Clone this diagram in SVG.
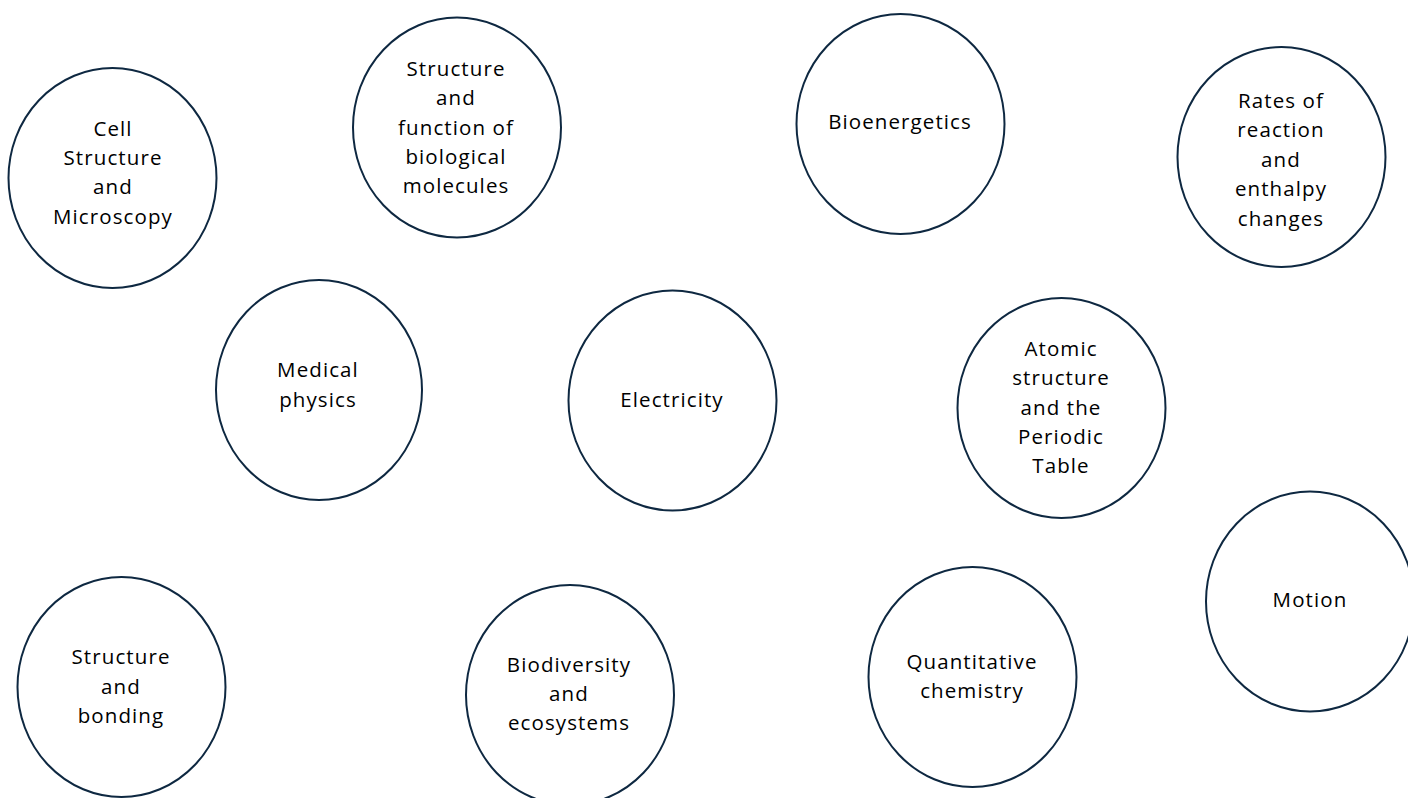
<svg xmlns="http://www.w3.org/2000/svg" width="1408" height="798" viewBox="0 0 1408 798">
<style>
.n ellipse{fill:#fff;stroke:#0e2841;stroke-width:2}
.n text{font-family:"Open Sans","Liberation Sans",sans-serif;font-size:20.5px;fill:#000;text-anchor:middle;letter-spacing:1.1px}
</style>
<rect width="1408" height="798" fill="#fff"/>
<g id="connectors"></g>
<g id="n1" class="n"><ellipse cx="112.5" cy="178" rx="104" ry="110"/><text x="113"><tspan x="113" y="136">Cell</tspan><tspan x="113" y="165">Structure</tspan><tspan x="113" y="194">and</tspan><tspan x="113" y="224">Microscopy</tspan></text></g>
<g id="n2" class="n"><ellipse cx="457" cy="127.5" rx="104" ry="110"/><text><tspan x="456" y="76">Structure</tspan><tspan x="456" y="105">and</tspan><tspan x="456" y="135">function of</tspan><tspan x="456" y="164">biological</tspan><tspan x="456" y="193">molecules</tspan></text></g>
<g id="n3" class="n"><ellipse cx="900.5" cy="124" rx="104" ry="110"/><text x="900" y="129">Bioenergetics</text></g>
<g id="n4" class="n"><ellipse cx="1281.5" cy="157" rx="104" ry="110"/><text><tspan x="1281" y="108">Rates of</tspan><tspan x="1281" y="137">reaction</tspan><tspan x="1281" y="167">and</tspan><tspan x="1281" y="196">enthalpy</tspan><tspan x="1281" y="226">changes</tspan></text></g>
<g id="n5" class="n"><ellipse cx="319" cy="390" rx="103" ry="110"/><text><tspan x="318" y="377">Medical</tspan><tspan x="318" y="407">physics</tspan></text></g>
<g id="n6" class="n"><ellipse cx="672.5" cy="400.5" rx="104" ry="110"/><text x="672" y="407">Electricity</text></g>
<g id="n7" class="n"><ellipse cx="1061.5" cy="408" rx="104" ry="110"/><text><tspan x="1061" y="356">Atomic</tspan><tspan x="1061" y="385">structure</tspan><tspan x="1061" y="415">and the</tspan><tspan x="1061" y="444">Periodic</tspan><tspan x="1061" y="473">Table</tspan></text></g>
<g id="n8" class="n"><ellipse cx="1310" cy="601.5" rx="104" ry="110"/><text x="1310" y="607">Motion</text></g>
<g id="n9" class="n"><ellipse cx="121.5" cy="687" rx="104" ry="110"/><text><tspan x="121" y="664">Structure</tspan><tspan x="121" y="694">and</tspan><tspan x="121" y="723">bonding</tspan></text></g>
<g id="n10" class="n"><ellipse cx="570" cy="695" rx="104" ry="110"/><text><tspan x="569" y="672">Biodiversity</tspan><tspan x="569" y="701">and</tspan><tspan x="569" y="730">ecosystems</tspan></text></g>
<g id="n11" class="n"><ellipse cx="972.5" cy="677" rx="104" ry="110"/><text><tspan x="972" y="669">Quantitative</tspan><tspan x="972" y="698">chemistry</tspan></text></g>
</svg>
